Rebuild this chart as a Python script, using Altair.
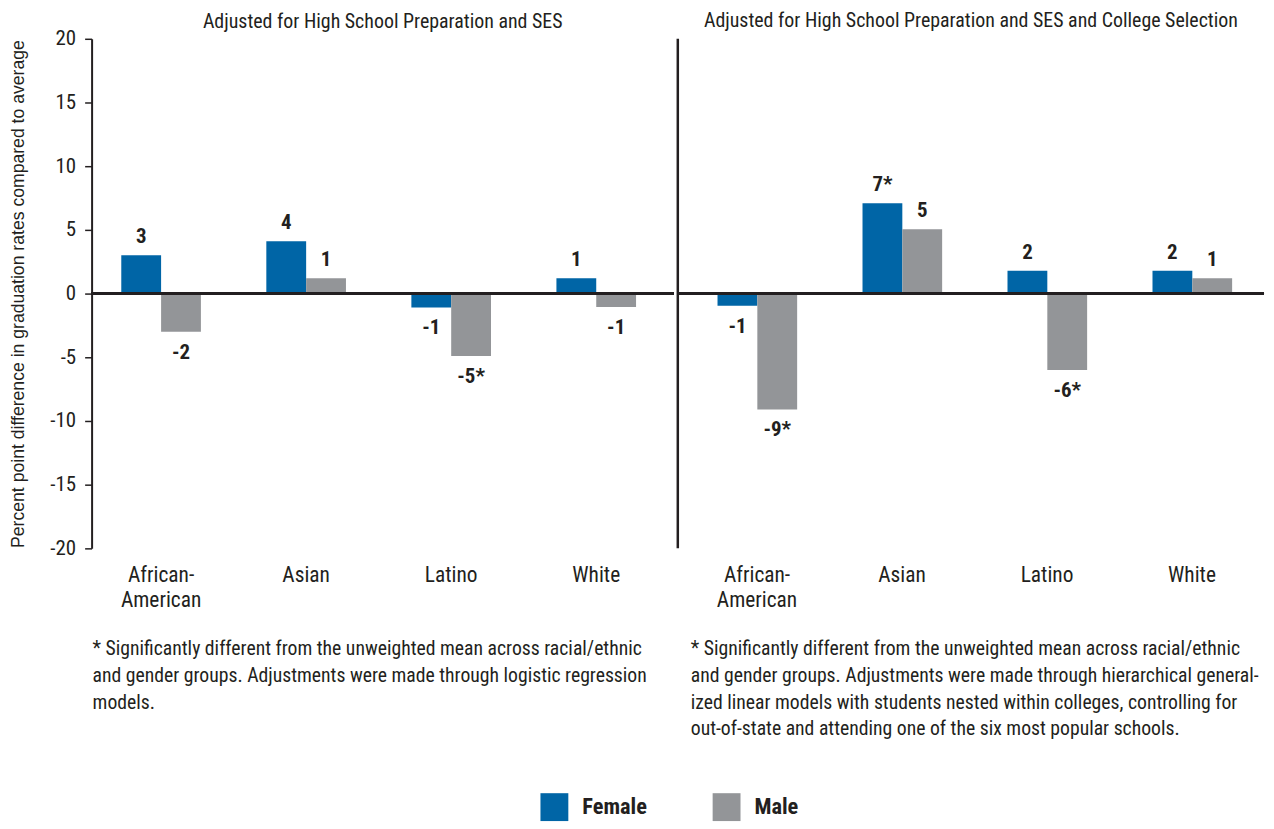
import altair as alt
import pandas as pd

# ---------------- data ----------------
groups = ["African-American", "Asian", "Latino", "White"]
genders = ["Female", "Male"]
panel_titles = [
    "Adjusted for High School Preparation and SES",
    "Adjusted for High School Preparation and SES and College Selection",
]
left_female = [3.0, 4.1, -1.1, 1.2]
left_male = [-3.0, 1.2, -4.9, -1.05]
right_female = [-0.95, 7.1, 1.8, 1.8]
right_male = [-9.1, 5.05, -6.0, 1.2]
left_female_lab = ["3", "4", "-1", "1"]
left_male_lab = ["-2", "1", "-5*", "-1"]
right_female_lab = ["-1", "7*", "2", "2"]
right_male_lab = ["-9*", "5", "-6*", "1"]
y_ticks = [-20, -15, -10, -5, 0, 5, 10, 15, 20]
y_title = "Percent point difference in graduation rates compared to average"
footnote_left = [
    "* Significantly different from the unweighted mean across racial/ethnic",
    "and gender groups. Adjustments were made through logistic regression",
    "models.",
]
footnote_right = [
    "* Significantly different from the unweighted mean across racial/ethnic",
    "and gender groups. Adjustments were made through hierarchical general-",
    "ized linear models with students nested within colleges, controlling for",
    "out-of-state and attending one of the six most popular schools.",
]

BLUE = "#0065A6"
GRAY = "#939598"
TXT = "#231f20"
COND = "'Roboto Condensed', 'DejaVu Sans Condensed', Roboto, sans-serif"
SANS = "Liberation Sans"
PLOT_H = 512


def make_df(fem, mal, flab, mlab):
    rows = []
    for g, v, l in zip(groups, fem, flab):
        rows.append({"group": g, "gender": "Female", "value": v, "label": l})
    for g, v, l in zip(groups, mal, mlab):
        rows.append({"group": g, "gender": "Male", "value": v, "label": l})
    return pd.DataFrame(rows)


def panel(df, title, width, left, footnote, foot_x, p_in, p_out, align, title_offset):
    x = alt.X(
        "group:N",
        sort=groups,
        scale=alt.Scale(paddingInner=p_in, paddingOuter=p_out, align=align),
        axis=alt.Axis(
            title=None, labelAngle=0, domain=False, ticks=False, labelPadding=16,
            labelFontSize=21.5, labelFont=COND, labelColor=TXT, labelBaseline="top",
            labelLineHeight=25,
            labelExpr="datum.value == 'African-American' ? ['African-', 'American'] : datum.value",
        ),
    )
    if left:
        yaxis = alt.Axis(
            values=y_ticks, title=y_title, titleFont=SANS, titleFontSize=17.7,
            titleFontWeight="normal", titleColor=TXT, titlePadding=22,
            labelFont=COND, labelFontSize=21, labelColor=TXT, labelPadding=9,
            labelExpr="toString(datum.value)",
            tickSize=7, tickColor=TXT, tickWidth=1.5, domainColor=TXT, domainWidth=2,
            grid=False,
        )
    else:
        yaxis = None
    y = alt.Y("value:Q", scale=alt.Scale(domain=[-20, 20], nice=False), axis=yaxis)
    color = alt.Color(
        "gender:N",
        scale=alt.Scale(domain=genders, range=[BLUE, GRAY]),
        legend=alt.Legend(
            title=None, orient="none", legendX=451, legendY=758, direction="horizontal",
            symbolType="square", symbolSize=784, symbolStrokeWidth=0, symbolOpacity=1,
            labelFont=COND, labelFontSize=22.5, labelFontWeight="bold", labelColor=TXT,
            labelOffset=14, columnPadding=66,
        ),
    )
    base = alt.Chart(df).encode(x=x, xOffset=alt.XOffset("gender:N", sort=genders))
    bars = base.mark_bar(opacity=1).encode(y=y, color=color)
    pos = base.transform_filter("datum.value >= 0").mark_text(
        baseline="alphabetic", dy=-12, font=COND, fontSize=21, fontWeight="bold", color=TXT
    ).encode(y=alt.Y("value:Q"), text="label:N")
    neg = base.transform_filter("datum.value < 0").mark_text(
        baseline="alphabetic", dy=27, font=COND, fontSize=21, fontWeight="bold", color=TXT
    ).encode(y=alt.Y("value:Q"), text="label:N")
    zero = alt.Chart(df).mark_rule(color=TXT, strokeWidth=2.5).encode(y=alt.datum(0))
    foot = alt.Chart(pd.DataFrame({"k": [0]})).mark_text(
        text=footnote, align="left", baseline="top", lineHeight=27,
        font=COND, fontSize=19.8, color=TXT,
    ).encode(x=alt.value(foot_x), y=alt.value(603))
    layers = [bars, zero, pos, neg, foot]
    if not left:
        divider = alt.Chart(pd.DataFrame({"k": [0]})).mark_rule(
            color=TXT, strokeWidth=2.5
        ).encode(x=alt.value(0), y=alt.value(0), y2=alt.value(PLOT_H))
        layers.append(divider)
    return alt.layer(*layers).properties(
        width=width, height=PLOT_H,
        title=alt.TitleParams(title, font=COND, fontSize=20, fontWeight="normal",
                              color=TXT, offset=title_offset, anchor="middle",
                              frame="group", lineHeight=20),
    )


left_panel = panel(make_df(left_female, left_male, left_female_lab, left_male_lab),
                   panel_titles[0], 585, True, footnote_left, 1,
                   0.451, 0.2325, 0.44, -4)
right_panel = panel(make_df(right_female, right_male, right_female_lab, right_male_lab),
                    panel_titles[1], 589, False, footnote_right, 13,
                    0.455, 0.249, 0.55, 7)

chart = (
    alt.hconcat(left_panel, right_panel, spacing=0)
    .resolve_scale(color="shared")
    .configure(background="white", padding={"left": 2, "top": 0, "right": 0, "bottom": 0})
    .configure_view(strokeWidth=0, stroke="transparent")
)

chart.save("out.html", embed_options={"renderer": "svg", "actions": False})
